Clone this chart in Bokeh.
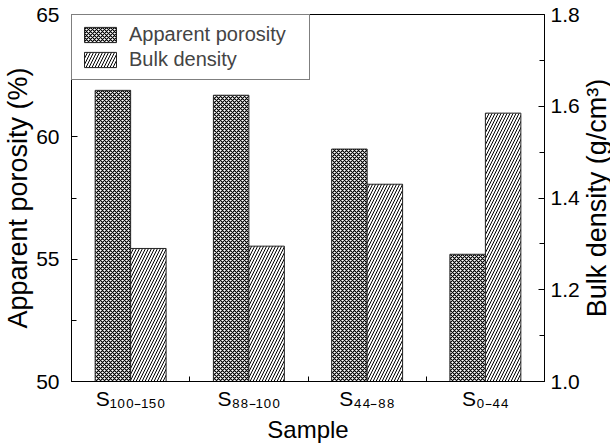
import math
from bokeh.plotting import figure
from bokeh.layouts import row
from bokeh.models import (Range1d, LinearAxis, FixedTicker, Legend, LegendItem,
                          ColumnDataSource, PrintfTickFormatter, CustomJSTickFormatter)
from bokeh.core.properties import value
from bokeh.transform import dodge
from bokeh.embed import file_html
from bokeh.resources import INLINE

# ---- data ----
samples = ["S100-150", "S88-100", "S44-88", "S0-44"]
subscripts = ["100-150", "88-100", "44-88", "0-44"]
porosity = [61.9, 61.7, 59.5, 55.2]          # Apparent porosity (%)
bulk_density = [1.29, 1.295, 1.43, 1.585]    # Bulk density (g/cm3)
left_ticks = [50, 55, 60, 65]
right_ticks = [1.0, 1.2, 1.4, 1.6, 1.8]

FONT = "Liberation Sans"

n = len(samples)
positions = [i + 0.5 for i in range(n)]   # category centres on a 0..n axis
src = ColumnDataSource(dict(sample=samples, pos=positions, porosity=porosity,
                            bulk=bulk_density))

SUB = str.maketrans("0123456789-", "₀₁₂₃₄₅₆₇₈₉₋")
tick_labels = ["S" + s.translate(SUB) for s in subscripts]

MAIN_W, SIDE_W, H = 582, 28, 446
p = figure(width=MAIN_W, height=H, x_range=Range1d(0, n),
           y_range=Range1d(left_ticks[0], left_ticks[-1]),
           output_backend="svg", toolbar_location=None, x_axis_type=None,
           min_border_left=66, min_border_right=37, min_border_top=14,
           min_border_bottom=65)
p.grid.visible = False
p.outline_line_color = "black"
p.outline_line_width = 1
p.outline_line_alpha = 1
p.background_fill_color = "white"
p.border_fill_color = "white"


def style_y(ax):
    ax.axis_label_text_font = FONT
    ax.axis_label_text_font_size = "27px"
    ax.axis_label_text_font_style = "normal"
    ax.axis_label_text_color = "black"
    ax.axis_label_standoff = 0
    ax.major_label_text_font = FONT
    ax.major_label_text_font_size = "21px"
    ax.major_label_text_color = "black"
    ax.major_tick_in = 6
    ax.major_tick_out = 0
    ax.minor_tick_in = 5
    ax.minor_tick_out = 0
    ax.axis_line_color = "black"
    ax.major_tick_line_color = "black"
    ax.minor_tick_line_color = "black"


# left axis
ya = p.yaxis[0]
ya.ticker = FixedTicker(ticks=left_ticks, minor_ticks=[52.5, 57.5, 62.5])
ya.axis_label = "Apparent porosity (%)"
style_y(ya)
ya.major_label_standoff = 12

# right axis (title drawn in the side strip so it reads bottom-to-top)
p.extra_y_ranges["bulk"] = Range1d(right_ticks[0], right_ticks[-1])
yr = LinearAxis(y_range_name="bulk",
                ticker=FixedTicker(ticks=right_ticks, minor_ticks=[1.1, 1.3, 1.5, 1.7]),
                formatter=PrintfTickFormatter(format="%.1f"))
style_y(yr)
yr.major_label_standoff = 6
p.add_layout(yr, "right")

# bottom axis: sample labels at centres, separator ticks between samples
xa = LinearAxis(ticker=FixedTicker(ticks=positions, minor_ticks=list(range(1, n))),
                formatter=CustomJSTickFormatter(args=dict(labels=tick_labels),
                                                code="return labels[Math.floor(tick)]"),
                axis_label="Sample")
xa.major_label_text_font = FONT
xa.major_label_text_font_size = "21px"
xa.major_label_text_color = "black"
xa.major_label_standoff = 5
xa.major_tick_in = 0
xa.major_tick_out = 0
xa.minor_tick_in = 5
xa.minor_tick_out = 0
xa.axis_line_color = "black"
xa.minor_tick_line_color = "black"
xa.axis_label_text_font = FONT
xa.axis_label_text_font_size = "24px"
xa.axis_label_text_font_style = "normal"
xa.axis_label_text_color = "black"
xa.axis_label_standoff = 3
p.add_layout(xa, "below")

# bars
r1 = p.vbar(x=dodge("pos", -0.15), top="porosity", width=0.3,
            bottom=0, source=src, fill_color="white", line_color="#222", line_width=1,
            hatch_pattern="diagonal_cross", hatch_scale=4, hatch_weight=1.2,
            hatch_color="black")
r2 = p.vbar(x=dodge("pos", 0.15), top="bulk", width=0.3,
            bottom=0, source=src, y_range_name="bulk", fill_color="white",
            line_color="#222", line_width=1, hatch_pattern="right_diagonal_line",
            hatch_scale=6, hatch_weight=1, hatch_color="black")

legend = Legend(items=[LegendItem(label="Apparent porosity", renderers=[r1]),
                       LegendItem(label="Bulk density", renderers=[r2])],
                location="top_left", margin=0, padding=8, spacing=2,
                glyph_width=40, glyph_height=19, label_height=19, label_width=172,
                label_standoff=9, label_text_font=FONT, label_text_font_size="20px",
                border_line_color="black", border_line_width=1,
                background_fill_alpha=1)
p.add_layout(legend)

# side strip holding the right-hand axis title, reading bottom-to-top
side = figure(width=SIDE_W, height=H, x_range=Range1d(0, 1), y_range=p.y_range,
              output_backend="svg", toolbar_location=None, x_axis_type=None,
              y_axis_type=None, min_border_left=0, min_border_right=0,
              min_border_top=14, min_border_bottom=65)
side.grid.visible = False
side.outline_line_color = None
side.border_fill_color = "white"
side.background_fill_color = "white"
side.text(x=[0.5], y=[(left_ticks[0] + left_ticks[-1]) / 2],
          text=["Bulk density (g/cm³)"], angle=math.pi / 2,
          text_align="center", text_baseline="middle",
          text_font=value(FONT), text_font_size="27px", text_color="black")

layout = row(p, side, spacing=0)
open("out.html", "w").write(file_html(layout, INLINE))
